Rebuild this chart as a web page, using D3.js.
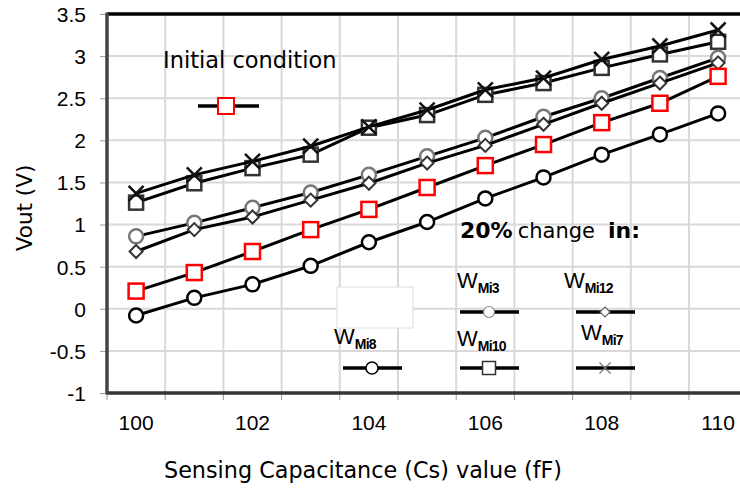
<!DOCTYPE html>
<html><head><meta charset="utf-8">
<script src="https://cdn.jsdelivr.net/npm/d3@7"></script>
<style>
body{margin:0;background:#fff;}
svg{display:block;}
</style></head>
<body><svg id="chart" width="740" height="490"></svg>
<script>
// ---- data ----
const categories = [100,101,102,103,104,105,106,107,108,109,110];
const xTickLabels = [100,102,104,106,108,110];
const yTicks = [-1,-0.5,0,0.5,1,1.5,2,2.5,3,3.5];
const initialCond = [0.21,0.43,0.68,0.94,1.18,1.44,1.70,1.95,2.21,2.44,2.76];
const wMi8  = [-0.08,0.13,0.29,0.51,0.79,1.03,1.31,1.56,1.83,2.07,2.32];
const wMi3  = [0.86,1.02,1.20,1.38,1.59,1.81,2.03,2.28,2.50,2.74,2.98];
const wMi12 = [0.68,0.94,1.09,1.29,1.49,1.73,1.94,2.19,2.44,2.68,2.92];
const wMi10 = [1.26,1.49,1.67,1.83,2.15,2.30,2.54,2.68,2.86,3.02,3.17];
const wMi7  = [1.37,1.59,1.75,1.93,2.16,2.36,2.60,2.74,2.96,3.12,3.31];
const xTitle = "Sensing Capacitance (Cs) value (fF)";
const yTitle = "Vout  (V)";

(function(){
const svg = d3.select("#chart");
const pLeft = 107, pTop = 14, pBottom = 393, pRight = 107 + 11*58.2;

const x = d3.scaleBand().domain(categories).range([pLeft, pRight]).padding(0);
const y = d3.scaleLinear().domain([-1, 3.5]).range([pBottom, pTop]);
const cx = c => x(c) + x.bandwidth()/2;

// gridlines
const g = svg.append("g");
g.selectAll("line.hg").data(yTicks.filter(t => t > -1 && t < 3.5)).join("line")
  .attr("x1", pLeft).attr("x2", 740).attr("y1", d => y(d)).attr("y2", d => y(d))
  .attr("stroke", "#d9d9d9").attr("stroke-width", 2);
g.selectAll("line.vg").data(categories.slice(1)).join("line")
  .attr("x1", d => x(d)).attr("x2", d => x(d)).attr("y1", pTop).attr("y2", pBottom)
  .attr("stroke", "#d9d9d9").attr("stroke-width", 2);

// y axis
const yAxis = d3.axisLeft(y).tickValues(yTicks).tickSize(7).tickFormat(d => String(d));
const ya = svg.append("g").attr("transform", `translate(${pLeft},0)`).call(yAxis);
ya.select(".domain").remove();
ya.selectAll(".tick line").attr("stroke", "#999");
ya.selectAll(".tick text").attr("x", -21).attr("dy", "0.35em")
  .style("font-family", "'Liberation Sans', Arial, sans-serif").style("font-size", "21px").attr("fill", "#000");

// x axis
const xAxis = d3.axisBottom(x).tickSize(0).tickFormat(d => xTickLabels.includes(d) ? String(d) : "");
const xa = svg.append("g").attr("transform", `translate(0,${pBottom})`).call(xAxis);
xa.select(".domain").remove();
xa.selectAll(".tick text").attr("y", 22).attr("dy", "0.71em")
  .style("font-family", "'Liberation Sans', Arial, sans-serif").style("font-size", "21px").attr("fill", "#000");
svg.append("g").selectAll("line").data(categories).join("line")
  .attr("x1", d => x(d)).attr("x2", d => x(d)).attr("y1", pBottom).attr("y2", pBottom + 7)
  .attr("stroke", "#999");

// frame
svg.append("line").attr("x1", pLeft).attr("x2", 740).attr("y1", pTop).attr("y2", pTop)
  .attr("stroke", "#000").attr("stroke-width", 3.5);
svg.append("line").attr("x1", pLeft).attr("x2", 740).attr("y1", pBottom).attr("y2", pBottom)
  .attr("stroke", "#333").attr("stroke-width", 3.5);
svg.append("line").attr("x1", pLeft).attr("x2", pLeft).attr("y1", pTop - 1.5).attr("y2", pBottom + 1.5)
  .attr("stroke", "#444").attr("stroke-width", 3.5);

// axis titles
svg.append("text").attr("x", 363).attr("y", 478).attr("text-anchor", "middle")
  .style("font-family", "'DejaVu Sans', sans-serif").style("font-size", "22.3px").text(xTitle);
svg.append("text").attr("transform", "translate(32,208) rotate(-90)").attr("text-anchor", "middle")
  .style("font-family", "'DejaVu Sans', sans-serif").style("font-size", "21.5px").text(yTitle);

// marker drawing
function marker(sel, type, px, py, opt) {
  const s = opt.size;
  if (type === "circle") {
    sel.append("circle").attr("cx", px).attr("cy", py).attr("r", s/2)
      .attr("fill", "#fff").attr("stroke", opt.color).attr("stroke-width", opt.sw);
  } else if (type === "square") {
    sel.append("rect").attr("x", px - s/2).attr("y", py - s/2).attr("width", s).attr("height", s)
      .attr("fill", "#fff").attr("stroke", opt.color).attr("stroke-width", opt.sw);
  } else if (type === "diamond") {
    sel.append("path").attr("d", `M${px},${py - s/2}L${px + s/2},${py}L${px},${py + s/2}L${px - s/2},${py}Z`)
      .attr("fill", "#fff").attr("stroke", opt.color).attr("stroke-width", opt.sw);
  } else if (type === "x") {
    sel.append("path").attr("d", `M${px - s/2},${py - s/2}L${px + s/2},${py + s/2}M${px + s/2},${py - s/2}L${px - s/2},${py + s/2}`)
      .attr("fill", "none").attr("stroke", opt.color).attr("stroke-width", opt.sw);
  }
}

const series = [
  {values: wMi10, type: "square", opt: {size: 14, color: "#333", sw: 2.5}},
  {values: wMi7, type: "x", opt: {size: 15, color: "#111", sw: 2.5}},
  {values: wMi3, type: "circle", opt: {size: 14, color: "#777", sw: 2.5}},
  {values: wMi12, type: "diamond", opt: {size: 13, color: "#333", sw: 2}},
  {values: initialCond, type: "square", opt: {size: 15, color: "#ff0000", sw: 2.5}},
  {values: wMi8, type: "circle", opt: {size: 14, color: "#000", sw: 2.5}}
];
const line = d3.line().x((d, i) => cx(categories[i])).y(d => y(d));
series.forEach(s => {
  const gs = svg.append("g");
  gs.append("path").attr("d", line(s.values)).attr("fill", "none").attr("stroke", "#000").attr("stroke-width", 3);
  s.values.forEach((v, i) => marker(gs, s.type, cx(categories[i]), y(v), s.opt));
});

// legend
const lg = svg.append("g");
lg.append("text").attr("x", 163).attr("y", 68)
  .style("font-family", "'DejaVu Sans', sans-serif").style("font-size", "22.5px").text("Initial condition");
lg.append("line").attr("x1", 198).attr("x2", 259).attr("y1", 106).attr("y2", 106).attr("stroke", "#000").attr("stroke-width", 3.5);
marker(lg, "square", 226, 106, {size: 16, color: "#ff0000", sw: 2});

const cap = lg.append("text").attr("x", 460).attr("y", 238).style("font-family", "'DejaVu Sans', sans-serif");
cap.append("tspan").style("font-weight", "bold").style("font-size", "22px").text("20%");
cap.append("tspan").style("font-size", "21px").attr("dx", 5).text("change");
cap.append("tspan").style("font-weight", "bold").style("font-size", "22px").attr("dx", 13).text("in:");

lg.append("rect").attr("x", 337).attr("y", 287).attr("width", 76).attr("height", 41)
  .attr("fill", "#fff").attr("stroke", "#ddd").attr("stroke-width", 1);

const legendItems = [
  {sub: "Mi3", tx: 457, ty: 288, lx: 460, ly: 312, type: "circle", opt: {size: 11, color: "#888", sw: 1.2}},
  {sub: "Mi12", tx: 564, ty: 288, lx: 576, ly: 312, type: "diamond", opt: {size: 10, color: "#666", sw: 1.2}},
  {sub: "Mi10", tx: 457, ty: 346, lx: 460, ly: 368, type: "square", opt: {size: 13, color: "#333", sw: 1.5}},
  {sub: "Mi7", tx: 581, ty: 340, lx: 576, ly: 368, type: "x", opt: {size: 11, color: "#777", sw: 1.2}},
  {sub: "Mi8", tx: 334, ty: 344, lx: 343, ly: 368, type: "circle", opt: {size: 12, color: "#000", sw: 1.5}}
];
legendItems.forEach(it => {
  const t = lg.append("text").attr("x", it.tx).attr("y", it.ty)
    .style("font-family", "'Liberation Sans', Arial, sans-serif");
  t.append("tspan").style("font-size", "22px").text("W");
  t.append("tspan").style("font-size", "14px").style("font-weight", "bold").attr("dy", 5).attr("dx", 0)
    .style("letter-spacing", "-0.8px").text(it.sub);
  lg.append("line").attr("x1", it.lx).attr("x2", it.lx + 59).attr("y1", it.ly).attr("y2", it.ly)
    .attr("stroke", "#000").attr("stroke-width", 3.5);
  marker(lg, it.type, it.lx + 29, it.ly, it.opt);
});
})();
</script></body></html>
